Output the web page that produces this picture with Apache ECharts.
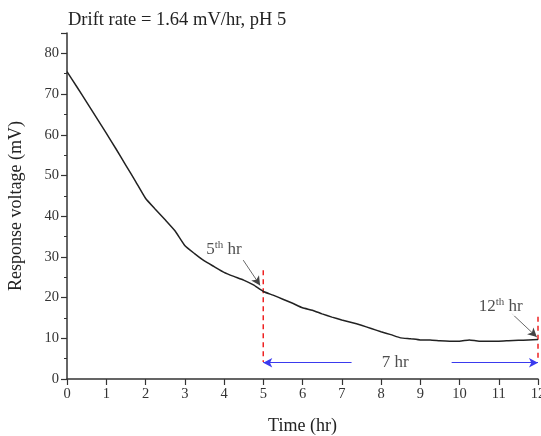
<!DOCTYPE html>
<html><head><meta charset="utf-8">
<script src="https://cdn.jsdelivr.net/npm/echarts@6/dist/echarts.min.js"></script>
<style>html,body{margin:0;padding:0;background:#fff}#c{width:541px;height:436px}</style>
</head><body><div id="c"></div>
<script>
var timeHr = [0,0.25,0.5,0.75,1,1.25,1.5,1.75,2,2.25,2.5,2.75,3,3.25,3.5,3.75,4,4.25,4.5,4.75,5,5.25,5.5,5.75,6,6.25,6.5,6.75,7,7.25,7.5,7.75,8,8.25,8.5,8.75,9,9.25,9.5,9.75,10,10.25,10.5,10.75,11,11.25,11.5,11.75,12];
var voltage = [75.5,71.8,68,64.2,60.4,56.5,52.5,48.5,44.4,41.7,39.1,36.4,32.8,30.8,29.0,27.6,26.2,25.2,24.3,23.1,21.5,20.6,19.6,18.6,17.5,16.9,16.0,15.2,14.5,13.9,13.2,12.4,11.6,10.9,10.1,9.9,9.6,9.6,9.4,9.3,9.3,9.6,9.3,9.3,9.3,9.4,9.5,9.6,9.7];
var redLine5 = [[5,26.7],[5,4.2]];
var redLine12 = [[12,15.3],[12,4.7]];
var blueArrowLeft = [[7.25,4.0],[5.0,4.0]];
var blueArrowRight = [[9.8,4.0],[12.0,4.0]];
var arrow5 = [[4.49,29.2],[4.92,23.0]];
var arrow12 = [[11.33,16.1],[11.97,10.3]];
var labels = [
  {pos:[4.0,31.8], text:'{b|5}{s|th}{b| hr}'},
  {pos:[11.05,17.8], text:'{b|12}{s|th}{b| hr}'},
  {pos:[8.36,4.0], text:'{b|7 hr}'}
];
var xTicks = {min:0, max:12, interval:1};
var yTicks = {min:0, max:85, interval:10};

var FONT = '"Liberation Serif","Times New Roman",serif';
var chart = echarts.init(document.getElementById('c'), null, {renderer:'canvas'});
function arrowLine(coords, color, width){
  return {type:'line', data:[], markLine:{silent:true, symbol:['none','arrow'], symbolSize:[7,9],
    lineStyle:{color:color, width:width, type:'solid'}, label:{show:false},
    data:[[{coord:coords[0]},{coord:coords[1]}]]}};
}
function dashed(coords){
  return {type:'line', data:coords, symbol:'none', lineStyle:{color:'#ee2222', width:1.5, type:[5,4]}, z:3};
}
var series = [
  {type:'line', data:timeHr.map(function(t,i){return [t,voltage[i]];}), symbol:'none', smooth:0.15,
   lineStyle:{color:'#222', width:1.5}, z:5},
  dashed(redLine5), dashed(redLine12),
  arrowLine(blueArrowLeft,'#3a3aee',1),
  arrowLine(blueArrowRight,'#3a3aee',1),
  arrowLine(arrow5,'#444',0.8),
  arrowLine(arrow12,'#444',0.8),
  {type:'scatter', symbolSize:0, data:labels.map(function(l){return {value:l.pos, label:{formatter:l.text}};}),
   label:{show:true, position:'inside', backgroundColor:'#fff', padding:[0,2],
     rich:{b:{fontFamily:FONT, fontSize:17, color:'#222'}, s:{fontFamily:FONT, fontSize:11, color:'#222', verticalAlign:'top', padding:[0,0,8,0]}}}, z:10}
];
chart.setOption({
  animation:false,
  title:{text:'Drift rate = 1.64 mV/hr, pH 5', left:63, top:6, textStyle:{fontFamily:FONT, fontSize:18.5, fontWeight:'normal', color:'#222'}},
  grid:{left:67, right:3, top:33, bottom:57, outerBoundsMode:'none', containLabel:false},
  xAxis:{type:'value', min:xTicks.min, max:xTicks.max, interval:xTicks.interval,
    name:'Time (hr)', nameLocation:'middle', nameGap:38, nameTextStyle:{fontFamily:FONT, fontSize:18, color:'#222'},
    axisLine:{lineStyle:{color:'#333', width:1.5}}, axisTick:{length:6, lineStyle:{color:'#333', width:1.2}},
    axisLabel:{fontFamily:FONT, fontSize:14.5, color:'#333', margin:8},
    splitLine:{show:false}},
  yAxis:{type:'value', min:yTicks.min, max:yTicks.max, interval:yTicks.interval,
    name:'Response voltage (mV)', nameLocation:'middle', nameGap:42, nameTextStyle:{fontFamily:FONT, fontSize:18, color:'#222'},
    axisLine:{show:true, lineStyle:{color:'#333', width:1.5}}, axisTick:{length:6, lineStyle:{color:'#333', width:1.2}},
    minorTick:{show:true, splitNumber:2, length:3, lineStyle:{color:'#333', width:1}},
    axisLabel:{fontFamily:FONT, fontSize:14.5, color:'#333', margin:8, showMaxLabel:false},
    splitLine:{show:false}},
  series:series
});
</script></body></html>
